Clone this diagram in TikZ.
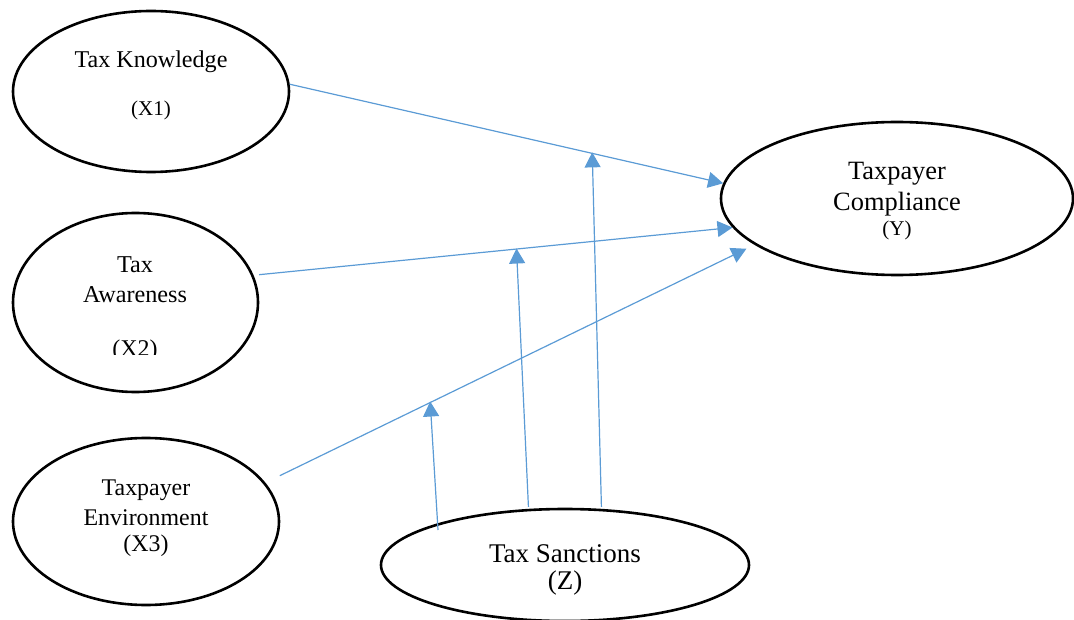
\documentclass[tikz,border=0pt]{standalone}
\usepackage{fontspec}
\setmainfont{Liberation Serif}
\usetikzlibrary{arrows.meta,shapes.geometric}
\definecolor{lineblue}{HTML}{5B9BD5}
\begin{document}
\begin{tikzpicture}[x=1pt,y=-1pt,
  var/.style={draw=black, line width=2.6pt, ellipse, inner sep=0pt},
  lbl/.style={anchor=base, inner sep=0pt},
  conn/.style={draw=lineblue, line width=1.2pt, -{Triangle[length=15pt,width=16pt]}}]
\useasboundingbox (0,0) rectangle (1074,620);
% variables
\node[var, minimum width=276pt, minimum height=161pt] (kn) at (151,91.5) {};
\node[var, minimum width=245pt, minimum height=179pt] (aw) at (135.5,302.5) {};
\node[var, minimum width=266pt, minimum height=167pt] (en) at (146,521.5) {};
\node[var, minimum width=352pt, minimum height=153pt] (co) at (897,198.5) {};
\node[var, minimum width=368pt, minimum height=112pt] (sa) at (565,565) {};
% labels
\node[lbl, font=\fontsize{24.1}{29}\selectfont] (knA) at (151,68) {Tax Knowledge};
\node[lbl, font=\fontsize{21}{25}\selectfont] (knB) at (151,116) {(X1)};
\node[lbl, font=\fontsize{24.2}{29}\selectfont] (awA) at (135,273) {Tax};
\node[lbl, font=\fontsize{24.2}{29}\selectfont] (awB) at (135,303) {Awareness};
\begin{scope}
  \clip (0,0) rectangle (1074,354.5);
  \node[lbl, font=\fontsize{24}{29}\selectfont] (awC) at (135,357) {(X2)};
\end{scope}
\node[lbl, font=\fontsize{23.9}{29}\selectfont] (enA) at (146,495) {Taxpayer};
\node[lbl, font=\fontsize{23.9}{29}\selectfont] (enB) at (146,525) {Environment};
\node[lbl, font=\fontsize{23.9}{29}\selectfont] (enC) at (146,551) {(X3)};
\node[lbl, font=\fontsize{26.4}{31}\selectfont] (coA) at (897,180) {Taxpayer};
\node[lbl, font=\fontsize{26.4}{31}\selectfont] (coB) at (897,211) {Compliance};
\node[lbl, font=\fontsize{21}{25}\selectfont] (coC) at (897,236) {(Y)};
\node[lbl, font=\fontsize{27}{32}\selectfont] (saA) at (565,562) {Tax Sanctions};
\node[lbl, font=\fontsize{27}{32}\selectfont] (saB) at (565,589) {(Z)};
% direct effects
\draw[conn] (kn.3.5) -- coordinate[pos=0.698] (m1) (co.175);
\draw[conn, shorten <=5.5pt] (aw.13) -- coordinate[pos=0.549] (m2) (co.190);
\draw[conn, shorten <=16pt, shorten >=9pt] (en.18) -- coordinate[pos=0.337] (m3) (co.198);
% moderation
\coordinate (z1) at ([shift={(-127,-35)}]sa.center);
\draw[conn, shorten >=-1pt] (z1) -- (m3);
\draw[conn, shorten <=2pt, shorten >=-0.5pt] (sa.123.7) -- (m2);
\draw[conn, shorten <=2pt, shorten >=-1pt] (sa.57) -- (m1);
\end{tikzpicture}
\end{document}
